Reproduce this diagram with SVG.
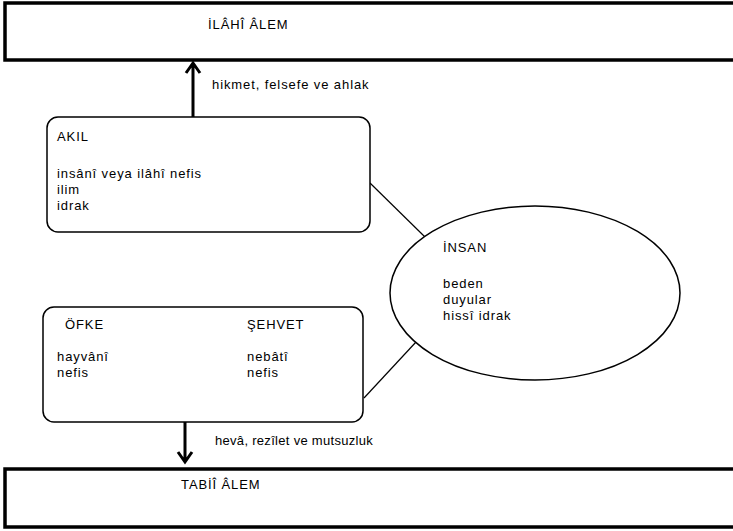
<svg xmlns="http://www.w3.org/2000/svg" width="733" height="531" viewBox="0 0 733 531">
<style>
text{font-family:"Liberation Sans",Arial,sans-serif;font-size:13px;letter-spacing:0.9px;fill:#000}
.world{fill:#fff;stroke:#000;stroke-width:3.5}
.box{fill:#fff;stroke:#000;stroke-width:1.5}
.conn{stroke:#000;stroke-width:1.2;fill:none}
.arrow{stroke:#000;stroke-width:3;fill:none}
</style>
<rect width="733" height="531" fill="#fff"/>
<g id="ilahi-alem">
<rect class="world" x="5" y="3" width="740" height="57"/>
<text x="208" y="29">İLÂHÎ ÂLEM</text>
</g>
<g id="tabii-alem">
<rect class="world" x="5" y="469" width="740" height="58"/>
<text x="181" y="489">TABİÎ ÂLEM</text>
</g>
<g id="connectors">
<path class="arrow" d="M193,117 V64 M186,73 L193,63 L200,73"/>
<path class="arrow" d="M185,422 V461 M178,452 L185,462 L192,452"/>
<line class="conn" x1="370" y1="183" x2="425" y2="237"/>
<line class="conn" x1="364" y1="398" x2="416" y2="342"/>
<text x="212" y="89">hikmet, felsefe ve ahlak</text>
<text x="215" y="445" style="letter-spacing:0.3px">hevâ, rezîlet ve mutsuzluk</text>
</g>
<g id="akil">
<rect class="box" x="47" y="117" width="323" height="115" rx="11"/>
<text x="57" y="141">AKIL</text>
<text x="57" y="178">insânî veya ilâhî nefis</text>
<text x="57" y="194">ilim</text>
<text x="57" y="210">idrak</text>
</g>
<g id="insan">
<ellipse class="box" cx="535" cy="293" rx="145" ry="87"/>
<text x="443" y="252">İNSAN</text>
<text x="443" y="288">beden</text>
<text x="443" y="304">duyular</text>
<text x="443" y="320">hissî idrak</text>
</g>
<g id="ofke-sehvet">
<rect class="box" x="43" y="307" width="320" height="115" rx="11"/>
<text x="65" y="329">ÖFKE</text>
<text x="247" y="329">ŞEHVET</text>
<text x="57" y="361">hayvânî</text>
<text x="57" y="377">nefis</text>
<text x="247" y="361">nebâtî</text>
<text x="247" y="377">nefis</text>
</g>
</svg>
